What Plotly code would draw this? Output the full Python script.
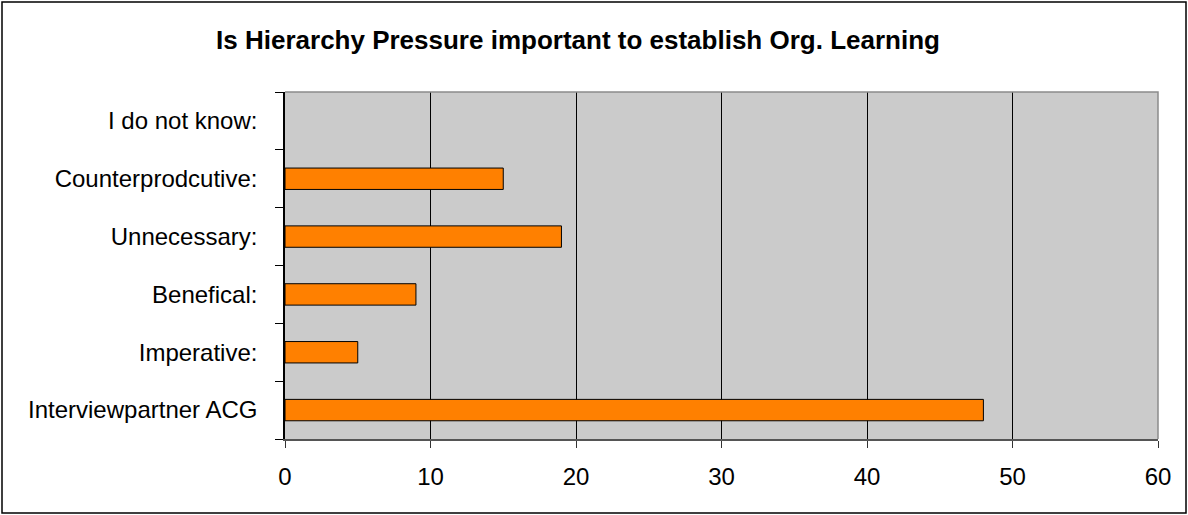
import plotly.graph_objects as go

# Survey answers, listed bottom to top as they appear on the chart
categories = [
    "Interviewpartner ACG",
    "Imperative:",
    "Benefical:",
    "Unnecessary:",
    "Counterprodcutive:",
    "I do not know:",
]
counts = [48, 5, 9, 19, 15, 0]
x_ticks = [0, 10, 20, 30, 40, 50, 60]

W, H = 1188, 515
L, R, T, B = 285, 30, 92, 76
pw, ph = W - L - R, H - T - B

FONT = "Liberation Sans, Arial, sans-serif"

fig = go.Figure(
    go.Bar(
        x=counts,
        y=categories,
        orientation="h",
        width=0.37,
        marker=dict(
            color="#FF8000",
            # empty bars get no outline so nothing shows for a zero count
            line=dict(color="#000000", width=[1 if c > 0 else 0 for c in counts]),
        ),
        hoverinfo="x+y",
    )
)

# Outer frame around the whole chart
fx0, fx1 = (2 - L) / pw, (W - 2 - L) / pw
fy0, fy1 = (T + ph - (H - 2)) / ph, (T + ph - 2) / ph
fig.add_shape(
    type="rect", xref="paper", yref="paper",
    x0=fx0, x1=fx1, y0=fy0, y1=fy1,
    line=dict(color="#000000", width=1.5), layer="below",
)
# Top and right edges of the plot area
fig.add_shape(
    type="path", xref="paper", yref="paper",
    path="M 0 1 L 1 1 L 1 0",
    line=dict(color="#8c8c8c", width=1.5),
)

fig.update_layout(
    width=W, height=H,
    margin=dict(l=L, r=R, t=T, b=B),
    paper_bgcolor="#FFFFFF",
    plot_bgcolor="#CBCBCB",
    font=dict(family=FONT, color="#000000", size=24),
    title=dict(
        text="<b>Is Hierarchy Pressure important to establish Org. Learning</b>",
        x=578 / W, xref="container", xanchor="center",
        y=1 - 40 / H, yref="container", yanchor="middle",
        font=dict(size=26, family=FONT),
    ),
    showlegend=False,
)

fig.update_xaxes(
    range=[0, 60],
    tickvals=x_ticks,
    ticktext=[str(v) for v in x_ticks],
    showgrid=True, gridcolor="#000000", gridwidth=1,
    zeroline=False,
    showline=True, linecolor="#555555", linewidth=1.5,
    ticks="outside", ticklen=7, tickcolor="#333333", tickwidth=1,
    ticklabelstandoff=8,
    tickfont=dict(size=24),
    fixedrange=True,
)
fig.update_yaxes(
    categoryorder="array", categoryarray=categories,
    showgrid=False, zeroline=False,
    showline=True, linecolor="#000000", linewidth=1.5,
    ticks="outside", tickson="boundaries", ticklen=8, tickcolor="#000000", tickwidth=1,
    ticklabelstandoff=21,
    tickfont=dict(size=24),
    fixedrange=True,
)

fig.write_html("out.html")
